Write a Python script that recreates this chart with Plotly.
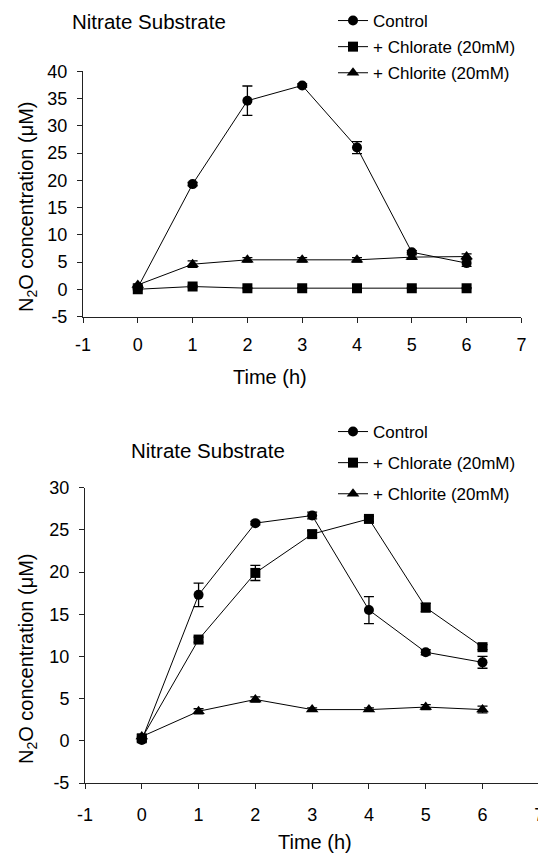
import plotly.graph_objects as go

# page body has an 8px default margin, so the figure is drawn from (8, 8)
OFF = 8
W, H = 546 - OFF, 853 - OFF

# ---------------- data ----------------
time_h = [0, 1, 2, 3, 4, 5, 6]

top_control = [0.3, 19.3, 34.6, 37.4, 26.0, 6.8, 4.8]
top_control_err = [0.2, 0.3, 2.7, 0.3, 1.1, 0.3, 0.6]
top_chlorate = [0.0, 0.5, 0.2, 0.2, 0.2, 0.2, 0.2]
top_chlorate_err = [0.1, 0.2, 0.1, 0.1, 0.1, 0.1, 0.1]
top_chlorite = [0.8, 4.6, 5.4, 5.4, 5.4, 5.9, 6.0]
top_chlorite_err = [0.2, 0.6, 0.4, 0.4, 0.4, 0.4, 0.5]

bot_control = [0.1, 17.3, 25.8, 26.7, 15.5, 10.5, 9.3]
bot_control_err = [0.2, 1.4, 0.2, 0.4, 1.6, 0.3, 0.7]
bot_chlorate = [0.3, 12.0, 19.9, 24.5, 26.3, 15.8, 11.1]
bot_chlorate_err = [0.2, 0.3, 0.9, 0.4, 0.3, 0.5, 0.3]
bot_chlorite = [0.5, 3.5, 4.9, 3.7, 3.7, 4.0, 3.7]
bot_chlorite_err = [0.2, 0.3, 0.3, 0.2, 0.2, 0.3, 0.4]

x_ticks = [-1, 0, 1, 2, 3, 4, 5, 6, 7]
x_ticktext = ["-1", "0", "1", "2", "3", "4", "5", "6", "7"]
top_y_ticks = [-5, 0, 5, 10, 15, 20, 25, 30, 35, 40]
top_y_ticktext = ["-5", "0", "5", "10", "15", "20", "25", "30", "35", "40"]
bot_y_ticks = [-5, 0, 5, 10, 15, 20, 25, 30]
bot_y_ticktext = ["-5", "0", "5", "10", "15", "20", "25", "30"]

series_names = ["Control", "+ Chlorate (20mM)", "+ Chlorite (20mM)"]
symbols = ["circle", "square", "triangle-up"]
panel_title = "Nitrate Substrate"
x_title = "Time (h)"
y_title = "N<sub>2</sub>O concentration (\u03bcM)"

FONT = "Liberation Sans, Arial, Helvetica, sans-serif"


def px_x(p):
    return (p - OFF) / W


def px_y(p):
    return 1 - (p - OFF) / H


fig = go.Figure()

panels = [
    ("x", "y", "legend", [top_control, top_chlorate, top_chlorite],
     [top_control_err, top_chlorate_err, top_chlorite_err], "t"),
    ("x2", "y2", "legend2", [bot_control, bot_chlorate, bot_chlorite],
     [bot_control_err, bot_chlorate_err, bot_chlorite_err], "b"),
]

for xa, ya, leg, vals, errs, tag in panels:
    for name, sym, v, e in zip(series_names, symbols, vals, errs):
        fig.add_trace(go.Scatter(
            x=time_h, y=v, name=name, mode="lines+markers",
            xaxis=xa, yaxis=ya, legend=leg, legendgroup=tag + name,
            line=dict(color="black", width=1),
            marker=dict(symbol=sym, size=10 if sym != "triangle-up" else 11,
                        color="black"),
            error_y=dict(type="data", array=e, visible=True,
                         color="black", thickness=1.3, width=5),
        ))

axis_common = dict(
    showgrid=False, zeroline=False, showline=True, linecolor="#222",
    linewidth=1, ticks="outside", ticklen=5, tickcolor="#222",
    tickfont=dict(family=FONT, size=18, color="black"),
    tickmode="array", ticklabeloverflow="allow",
)

fig.update_layout(
    width=W, height=H, autosize=False,
    margin=dict(l=0, r=0, t=0, b=0, autoexpand=False),
    paper_bgcolor="white", plot_bgcolor="white",
    font=dict(family=FONT, color="black"),
    xaxis=dict(domain=[px_x(83), px_x(521.4)], range=[-1, 7],
               tickvals=x_ticks, ticktext=x_ticktext,
               anchor="y", ticklabelstandoff=7, **axis_common),
    yaxis=dict(domain=[px_y(316.5), px_y(71.3)], range=[-5, 40],
               tickvals=top_y_ticks, ticktext=top_y_ticktext,
               anchor="x", ticklabelstandoff=6, **axis_common),
    xaxis2=dict(domain=[px_x(85), px_x(539.3)], range=[-1, 7],
                tickvals=x_ticks, ticktext=x_ticktext,
                anchor="y2", ticklabelstandoff=10, **axis_common),
    yaxis2=dict(domain=[px_y(783), px_y(487.7)], range=[-5, 30],
                tickvals=bot_y_ticks, ticktext=bot_y_ticktext,
                anchor="x2", ticklabelstandoff=6, **axis_common),
    legend=dict(x=px_x(333), y=px_y(3), xanchor="left", yanchor="top",
                font=dict(family=FONT, size=17), bgcolor="rgba(0,0,0,0)",
                tracegroupgap=1, itemclick=False),
    legend2=dict(x=px_x(333), y=px_y(414), xanchor="left", yanchor="top",
                 font=dict(family=FONT, size=17), bgcolor="rgba(0,0,0,0)",
                 tracegroupgap=6, itemclick=False),
    showlegend=True,
)

annotations = [
    dict(text=panel_title, x=px_x(70), y=px_y(8), xanchor="left",
         yanchor="top", font=dict(size=20.5)),
    dict(text=panel_title, x=px_x(129), y=px_y(450), xanchor="left",
         yanchor="middle", font=dict(size=20.5)),
    dict(text=x_title, x=px_x(270), y=px_y(377), xanchor="center",
         yanchor="middle", font=dict(size=20)),
    dict(text=x_title, x=px_x(315), y=px_y(842), xanchor="center",
         yanchor="middle", font=dict(size=20)),
    dict(text=y_title, x=px_x(27), y=px_y(207), xanchor="center",
         yanchor="middle", textangle=-90, font=dict(size=20)),
    dict(text=y_title, x=px_x(27), y=px_y(659), xanchor="center",
         yanchor="middle", textangle=-90, font=dict(size=20)),
]
for a in annotations:
    a.update(xref="paper", yref="paper", showarrow=False)
    a["font"].update(family=FONT, color="black")
fig.update_layout(annotations=annotations)

fig.write_html("out.html")
